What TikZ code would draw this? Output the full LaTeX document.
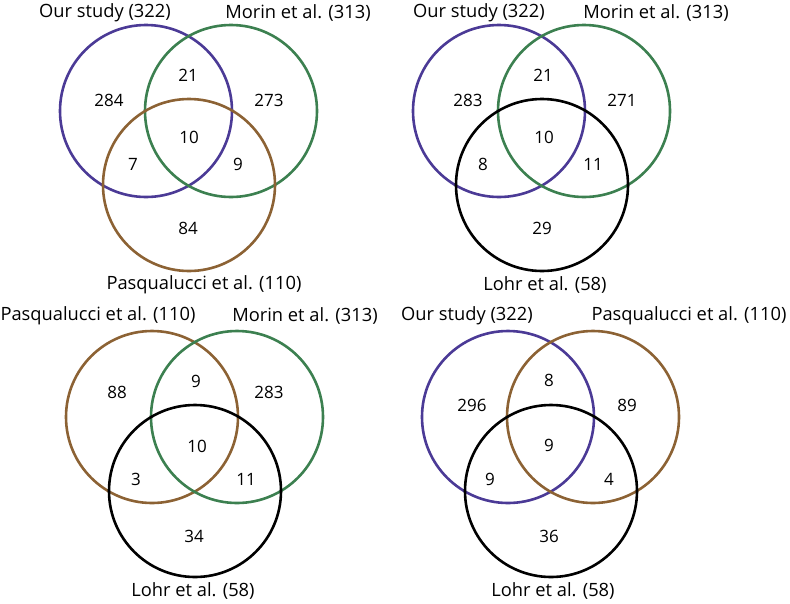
\documentclass[tikz,border=0pt]{standalone}
\usepackage{fontspec}
\setmainfont{Open Sans}
\definecolor{ourcol}{HTML}{4B3A96}
\definecolor{morcol}{HTML}{3C8050}
\definecolor{pascol}{HTML}{8C6234}
\definecolor{lohcol}{HTML}{000000}

\begin{document}
\begin{tikzpicture}[x=1pt, y=-1pt, line width=2.6pt,
    num/.style={font=\fontsize{17}{17}\selectfont, inner sep=0pt},
    setname/.style={font=\fontsize{18.3}{18.3}\selectfont, inner sep=0pt}]
        \useasboundingbox (0,0) rectangle (790,603);

        % Our study / Morin / Pasqualucci
        \begin{scope}[shift={(0,0)}]
        \draw[ourcol] (146,111) circle (86);
        \draw[morcol] (231,111) circle (86);
        \draw[pascol] (189,185) circle (86);
        \node[setname] (tlA) at (105,13) {Our study (322)};
        \node[setname] (tlB) at (298,13) {Morin et al. (313)};
        \node[setname] (tlC) at (204,285) {Pasqualucci et al. (110)};
        \node[num] (tla) at (109,100) {284};
        \node[num] (tlab) at (188,75) {21};
        \node[num] (tlb) at (269,100) {273};
        \node[num] (tlabc) at (189,137) {10};
        \node[num] (tlac) at (133,164) {7};
        \node[num] (tlbc) at (238,164) {9};
        \node[num] (tlc) at (188,228) {84};
        \end{scope}

        % Our study / Morin / Lohr
        \begin{scope}[shift={(353,0)}]
        \draw[ourcol] (146,111) circle (86);
        \draw[morcol] (231,111) circle (86);
        \draw[lohcol] (189,185) circle (86);
        \node[setname] (trA) at (126,13) {Our study (322)};
        \node[setname] (trB) at (303,13) {Morin et al. (313)};
        \node[setname] (trC) at (192,285) {Lohr et al. (58)};
        \node[num] (tra) at (115,100) {283};
        \node[num] (trab) at (190,75) {21};
        \node[num] (trb) at (269,100) {271};
        \node[num] (trabc) at (191,137) {10};
        \node[num] (trac) at (130,164) {8};
        \node[num] (trbc) at (240,164) {11};
        \node[num] (trc) at (189,228) {29};
        \end{scope}

        % Pasqualucci / Morin / Lohr
        \begin{scope}[shift={(6,306)}]
        \draw[pascol] (146,111) circle (86);
        \draw[morcol] (231,111) circle (86);
        \draw[lohcol] (189,185) circle (86);
        \node[setname] (blA) at (92,10) {Pasqualucci et al. (110)};
        \node[setname] (blB) at (299,10) {Morin et al. (313)};
        \node[setname] (blC) at (187,285) {Lohr et al. (58)};
        \node[num] (bla) at (111,86) {88};
        \node[num] (blab) at (190,75) {9};
        \node[num] (blb) at (263,86) {283};
        \node[num] (blabc) at (191,140) {10};
        \node[num] (blac) at (130,173) {3};
        \node[num] (blbc) at (240,173) {11};
        \node[num] (blc) at (188,230) {34};
        \end{scope}

        % Our study / Pasqualucci / Lohr
        \begin{scope}[shift={(362,306)}]
        \draw[ourcol] (146,111) circle (86);
        \draw[pascol] (231,111) circle (86);
        \draw[lohcol] (189,185) circle (86);
        \node[setname] (brA) at (105,10) {Our study (322)};
        \node[setname] (brB) at (327,10) {Pasqualucci et al. (110)};
        \node[setname] (brC) at (191,285) {Lohr et al. (58)};
        \node[num] (bra) at (110,99) {296};
        \node[num] (brab) at (187,74) {8};
        \node[num] (brb) at (265,99) {89};
        \node[num] (brabc) at (187,139) {9};
        \node[num] (brac) at (128,173) {9};
        \node[num] (brbc) at (247,173) {4};
        \node[num] (brc) at (187,230) {36};
        \end{scope}
        \end{tikzpicture}
\end{document}
